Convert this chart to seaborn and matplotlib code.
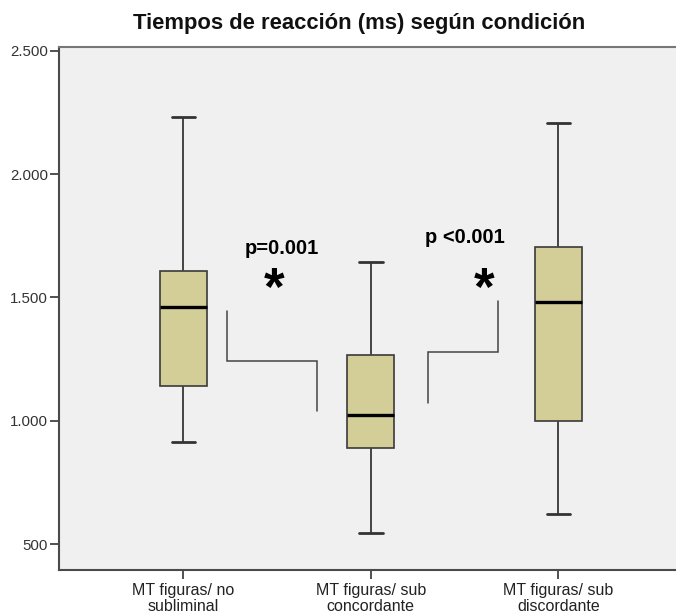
import matplotlib
matplotlib.use("Agg")
import matplotlib.pyplot as plt
from matplotlib.ticker import FuncFormatter
import numpy as np
import pandas as pd
import seaborn as sns

# Five-number summaries (ms) per condition
condiciones = ["MT figuras/ no\nsubliminal",
               "MT figuras/ sub\nconcordante",
               "MT figuras/ sub\ndiscordante"]
bigote_inf = [915, 545, 622]
q1 = [1142, 890, 1000]
mediana = [1462, 1023, 1481]
q3 = [1607, 1268, 1704]
bigote_sup = [2232, 1642, 2206]

# Significance brackets (x in category units, y in ms)
bracket1_x = [0.234, 0.234, 0.714, 0.714]
bracket1_y = [1447, 1244, 1244, 1038]
bracket2_x = [1.303, 1.303, 1.677, 1.677]
bracket2_y = [1074, 1280, 1280, 1487]
etiquetas_p = ["p=0.001", "p <0.001"]
etiquetas_p_x = [0.524, 1.502]
etiquetas_p_y = [1676, 1719]
asteriscos_x = [0.483, 1.603]
asteriscos_y = [1470, 1470]

y_ticks = [500, 1000, 1500, 2000, 2500]

filas = []
for c, a, b, m, d, e in zip(condiciones, bigote_inf, q1, mediana, q3, bigote_sup):
    for v in (a, b, m, d, e):
        filas.append({"condicion": c, "tiempo": v})
df = pd.DataFrame(filas)

sns.set_style("white")
plt.rcParams["font.family"] = ["Liberation Sans", "DejaVu Sans"]

fig = plt.figure(figsize=(6.76, 6.16), dpi=100)
ax = fig.add_axes([59 / 676, 46 / 616, 617 / 676, 522.7 / 616])
ax.set_facecolor("#F0F0F0")

edge = "#3A3A3A"
sns.boxplot(data=df, x="condicion", y="tiempo", order=condiciones,
            width=0.25, whis=(0, 100), color="#D3CE97", saturation=1,
            linecolor=edge, linewidth=1.2, ax=ax,
            medianprops={"color": "black", "linewidth": 2.4},
            whiskerprops={"color": "#444444", "linewidth": 1.4},
            capprops={"color": "#333333", "linewidth": 2.0})

for bx, by in ((bracket1_x, bracket1_y), (bracket2_x, bracket2_y)):
    ax.plot(bx, by, color="#444444", linewidth=1.1, solid_joinstyle="miter")

for t, x, y in zip(etiquetas_p, etiquetas_p_x, etiquetas_p_y):
    ax.text(x, y, t, ha="center", va="baseline", fontsize=14.5,
            fontweight="bold", color="black")
for x, y in zip(asteriscos_x, asteriscos_y):
    ax.text(x, y, "*", ha="center", va="baseline", fontsize=38,
            fontweight="bold", color="black")

ax.set_xlim(-0.664, 2.628)
ax.set_ylim(395, 2514)
ax.set_yticks(y_ticks)
ax.yaxis.set_major_formatter(FuncFormatter(lambda v, p: f"{int(v):,}".replace(",", ".")))
ax.set_xlabel("")
ax.set_ylabel("")

for side in ("left", "bottom", "top"):
    ax.spines[side].set_visible(True)
    ax.spines[side].set_color("#4A4A4A")
    ax.spines[side].set_linewidth(1.5)
ax.spines["right"].set_visible(False)
ax.spines["top"].set_color("#777777")

ax.tick_params(axis="y", which="major", left=True, length=6.5, width=1.2,
               color="#333333", pad=1.5, labelsize=10.8, labelcolor="#333333")
ax.tick_params(axis="x", which="major", bottom=True, length=6.5, width=1.2,
               color="#333333", pad=3, labelsize=11.5, labelcolor="#222222")
for lbl in ax.get_xticklabels():
    lbl.set_linespacing(1.05)

fig.text(359 / 676, 1 - 29 / 616, "Tiempos de reacción (ms) según condición",
         ha="center", va="baseline", fontsize=15.8, fontweight="bold",
         color="#111111")

fig.savefig("out.png", dpi=100, facecolor="white")
